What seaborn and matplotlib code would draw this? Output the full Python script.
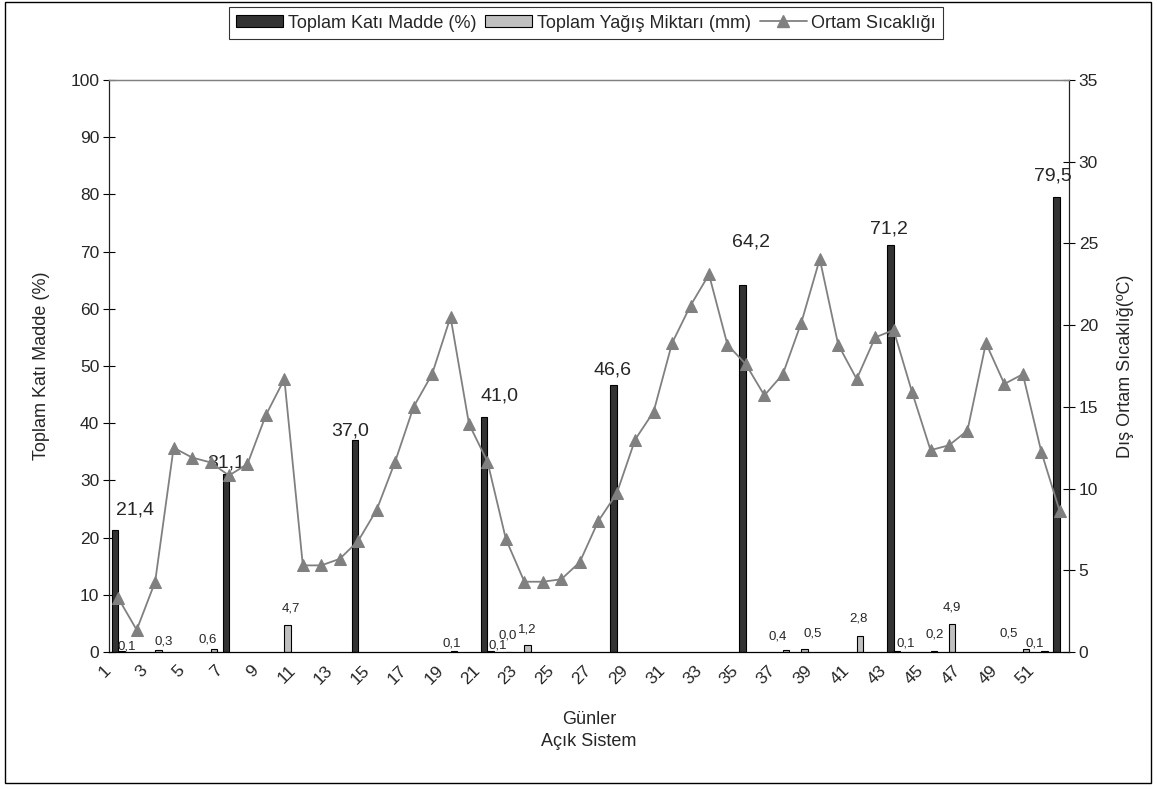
import matplotlib
matplotlib.use("Agg")
import matplotlib.pyplot as plt
import matplotlib.transforms as mtransforms
import seaborn as sns
import numpy as np
import pandas as pd
from matplotlib.lines import Line2D
from matplotlib.patches import Patch, Rectangle

# ---------------- data ----------------
days = list(range(1, 53))
tkm_days = [1, 7, 14, 21, 28, 35, 43, 52]
tkm_values = [21.4, 31.1, 37.0, 41.0, 46.6, 64.2, 71.2, 79.5]
rain_days = [1, 3, 6, 10, 19, 21, 22, 23, 37, 38, 41, 43, 45, 46, 50, 51]
rain_values = [0.1, 0.3, 0.6, 4.7, 0.1, 0.1, 0.0, 1.2, 0.4, 0.5, 2.8, 0.1, 0.2, 4.9, 0.5, 0.1]
temperature = [3.3, 1.35, 4.3, 12.5, 11.9, 11.6, 10.8, 11.5, 14.5, 16.7,
               5.3, 5.3, 5.7, 6.8, 8.7, 11.65, 15.0, 17.0, 20.5, 13.95,
               11.65, 6.9, 4.3, 4.3, 4.45, 5.5, 8.0, 9.7, 13.0, 14.7,
               18.9, 21.2, 23.1, 18.8, 17.6, 15.7, 17.0, 20.15, 24.05, 18.8,
               16.7, 19.25, 19.7, 15.9, 12.35, 12.65, 13.55, 18.9, 16.4, 17.0,
               12.25, 8.6]
tick_days = [d for d in days if d % 2 == 1]

s_tkm = "Toplam Katı Madde (%)"
s_rain = "Toplam Yağış Miktarı (mm)"
s_temp = "Ortam Sıcaklığı"

# label offsets (pixels) for data labels, style only
tkm_label_off = [(20, 20), (0, 11), (-5, 9), (15, 21), (-1, 15), (8, 43), (-1, 16), (-4, 21)]
rain_label_off = [(5, 5), (5, 9), (-6, 9), (3, 17), (-2, 8), (7, 6), (-1, 16), (0, 16),
                  (-8, 13), (8, 16), (-1, 17), (9, 8), (1, 16), (0, 16), (-17, 16), (-10, 8)]

# ---------------- style ----------------
sns.set_style("white")
plt.rcParams["font.family"] = ["Liberation Sans", "DejaVu Sans"]
plt.rcParams["font.size"] = 12.5

dark = "#333333"
light = "#c0c0c0"
gray = "#808080"

df = pd.DataFrame({
    "Gün": [str(d) for d in tkm_days] + [str(d) for d in rain_days],
    "Değer": tkm_values + rain_values,
    "Seri": [s_tkm] * len(tkm_days) + [s_rain] * len(rain_days),
})
order = [str(d) for d in days]

fig = plt.figure(figsize=(11.57, 7.89), dpi=100)
ax = fig.add_axes([109 / 1157, 1 - 652 / 789, (1069 - 109) / 1157, (652 - 80) / 789])

sns.barplot(data=df, x="Gün", y="Değer", hue="Seri", order=order,
            hue_order=[s_tkm, s_rain], palette=[dark, light], saturation=1,
            width=0.7, edgecolor="black", linewidth=0.8, errorbar=None,
            legend=False, ax=ax)

ax.set_xlim(-0.5, len(days) - 0.5)
ax.set_ylim(0, 100)
ax.set_yticks(range(0, 101, 10))
ax.set_xticks([days.index(d) for d in tick_days])
ax.set_xticks(np.arange(-0.5, len(days), 1), minor=True)
ax.tick_params(axis="x", which="major", length=0, pad=8)
ax.tick_params(axis="x", which="minor", direction="inout", length=7, width=0.8, color="black")
ax.tick_params(axis="y", direction="inout", length=8, width=0.8, color="black",
               labelsize=12.5, pad=3, left=True)
ax.set_xlabel("")
ax.set_ylabel("")

# data labels from the drawn bars
tkm_patches = sorted(ax.containers[0].patches, key=lambda p: p.get_x())
rain_patches = sorted(ax.containers[1].patches, key=lambda p: p.get_x())
for p, (dx, dy) in zip(tkm_patches, tkm_label_off):
    ax.annotate(f"{p.get_height():.1f}".replace(".", ","),
                (p.get_x() + p.get_width() / 2, p.get_height()),
                xytext=(dx, dy), textcoords="offset pixels",
                ha="center", va="center", fontsize=14)
for p, (dx, dy) in zip(rain_patches, rain_label_off):
    ax.annotate(f"{p.get_height():.1f}".replace(".", ","),
                (p.get_x() + p.get_width() / 2, p.get_height()),
                xytext=(dx, dy), textcoords="offset pixels",
                ha="center", va="center", fontsize=9.5)

# temperature line on secondary axis
ax2 = ax.twinx()
sns.lineplot(x=[days.index(d) for d in days], y=temperature, ax=ax2, color=gray,
             linewidth=1.3, marker="^", markersize=9, markeredgecolor=gray,
             markerfacecolor=gray)
ax2.set_ylim(0, 35)
ax2.set_yticks(range(0, 36, 5))
ax2.tick_params(axis="y", direction="inout", length=8, width=0.8, color="black",
                labelsize=12.5, pad=3, right=True)
ax2.set_ylabel("")
ax.set_xlim(-0.5, len(days) - 0.5)

for a in (ax, ax2):
    for s in a.spines.values():
        s.set_linewidth(0.9)
ax.spines["left"].set_color("#222222")
ax.spines["bottom"].set_color("black")
ax.spines["top"].set_color(gray)
ax.spines["right"].set_visible(False)
ax2.spines["left"].set_visible(False)
ax2.spines["bottom"].set_visible(False)
ax2.spines["top"].set_color(gray)
ax2.spines["right"].set_color("#222222")
ax.grid(False)
ax2.grid(False)

# axis titles
fig.text(589 / 1157, 1 - 720 / 789, "Günler", ha="center", va="center", fontsize=13)
fig.text(589 / 1157, 1 - 742 / 789, "Açık Sistem", ha="center", va="center", fontsize=13)
fig.text(42 / 1157, 1 - 366 / 789, "Toplam Katı Madde (%)", rotation=90,
         ha="center", va="center", fontsize=13)
fig.text(1126 / 1157, 1 - 366 / 789, "Dış Ortam Sıcaklığ(ºC)", rotation=90,
         ha="center", va="center", fontsize=13)

# legend
handles = [Patch(facecolor=dark, edgecolor="black", linewidth=0.8),
           Patch(facecolor=light, edgecolor="black", linewidth=0.8),
           Line2D([], [], color=gray, marker="^", markersize=8, linewidth=1.3)]
leg = fig.legend(handles, [s_tkm, s_rain, s_temp], loc="center",
                 bbox_to_anchor=(586 / 1157, 1 - 23 / 789), ncol=3, frameon=True,
                 fancybox=False, edgecolor="black", handlelength=2.6,
                 handleheight=0.6, columnspacing=0.5, handletextpad=0.25,
                 borderpad=0.4, fontsize=13)
leg.get_frame().set_linewidth(0.8)

# chart area border
fig.patches.append(Rectangle((0.004, 0.007), 0.991, 0.991, transform=fig.transFigure,
                             fill=False, edgecolor="black", linewidth=1.0))

# x tick labels (set last so the offset survives)
ax.set_xticklabels([str(d) for d in tick_days], rotation=45, ha="right",
                   rotation_mode="anchor", fontsize=12.5)
shift = mtransforms.ScaledTranslation(-0.15, 0.005, fig.dpi_scale_trans)
for lab in ax.get_xticklabels():
    lab.set_transform(lab.get_transform() + shift)

fig.savefig("out.png", dpi=100)
